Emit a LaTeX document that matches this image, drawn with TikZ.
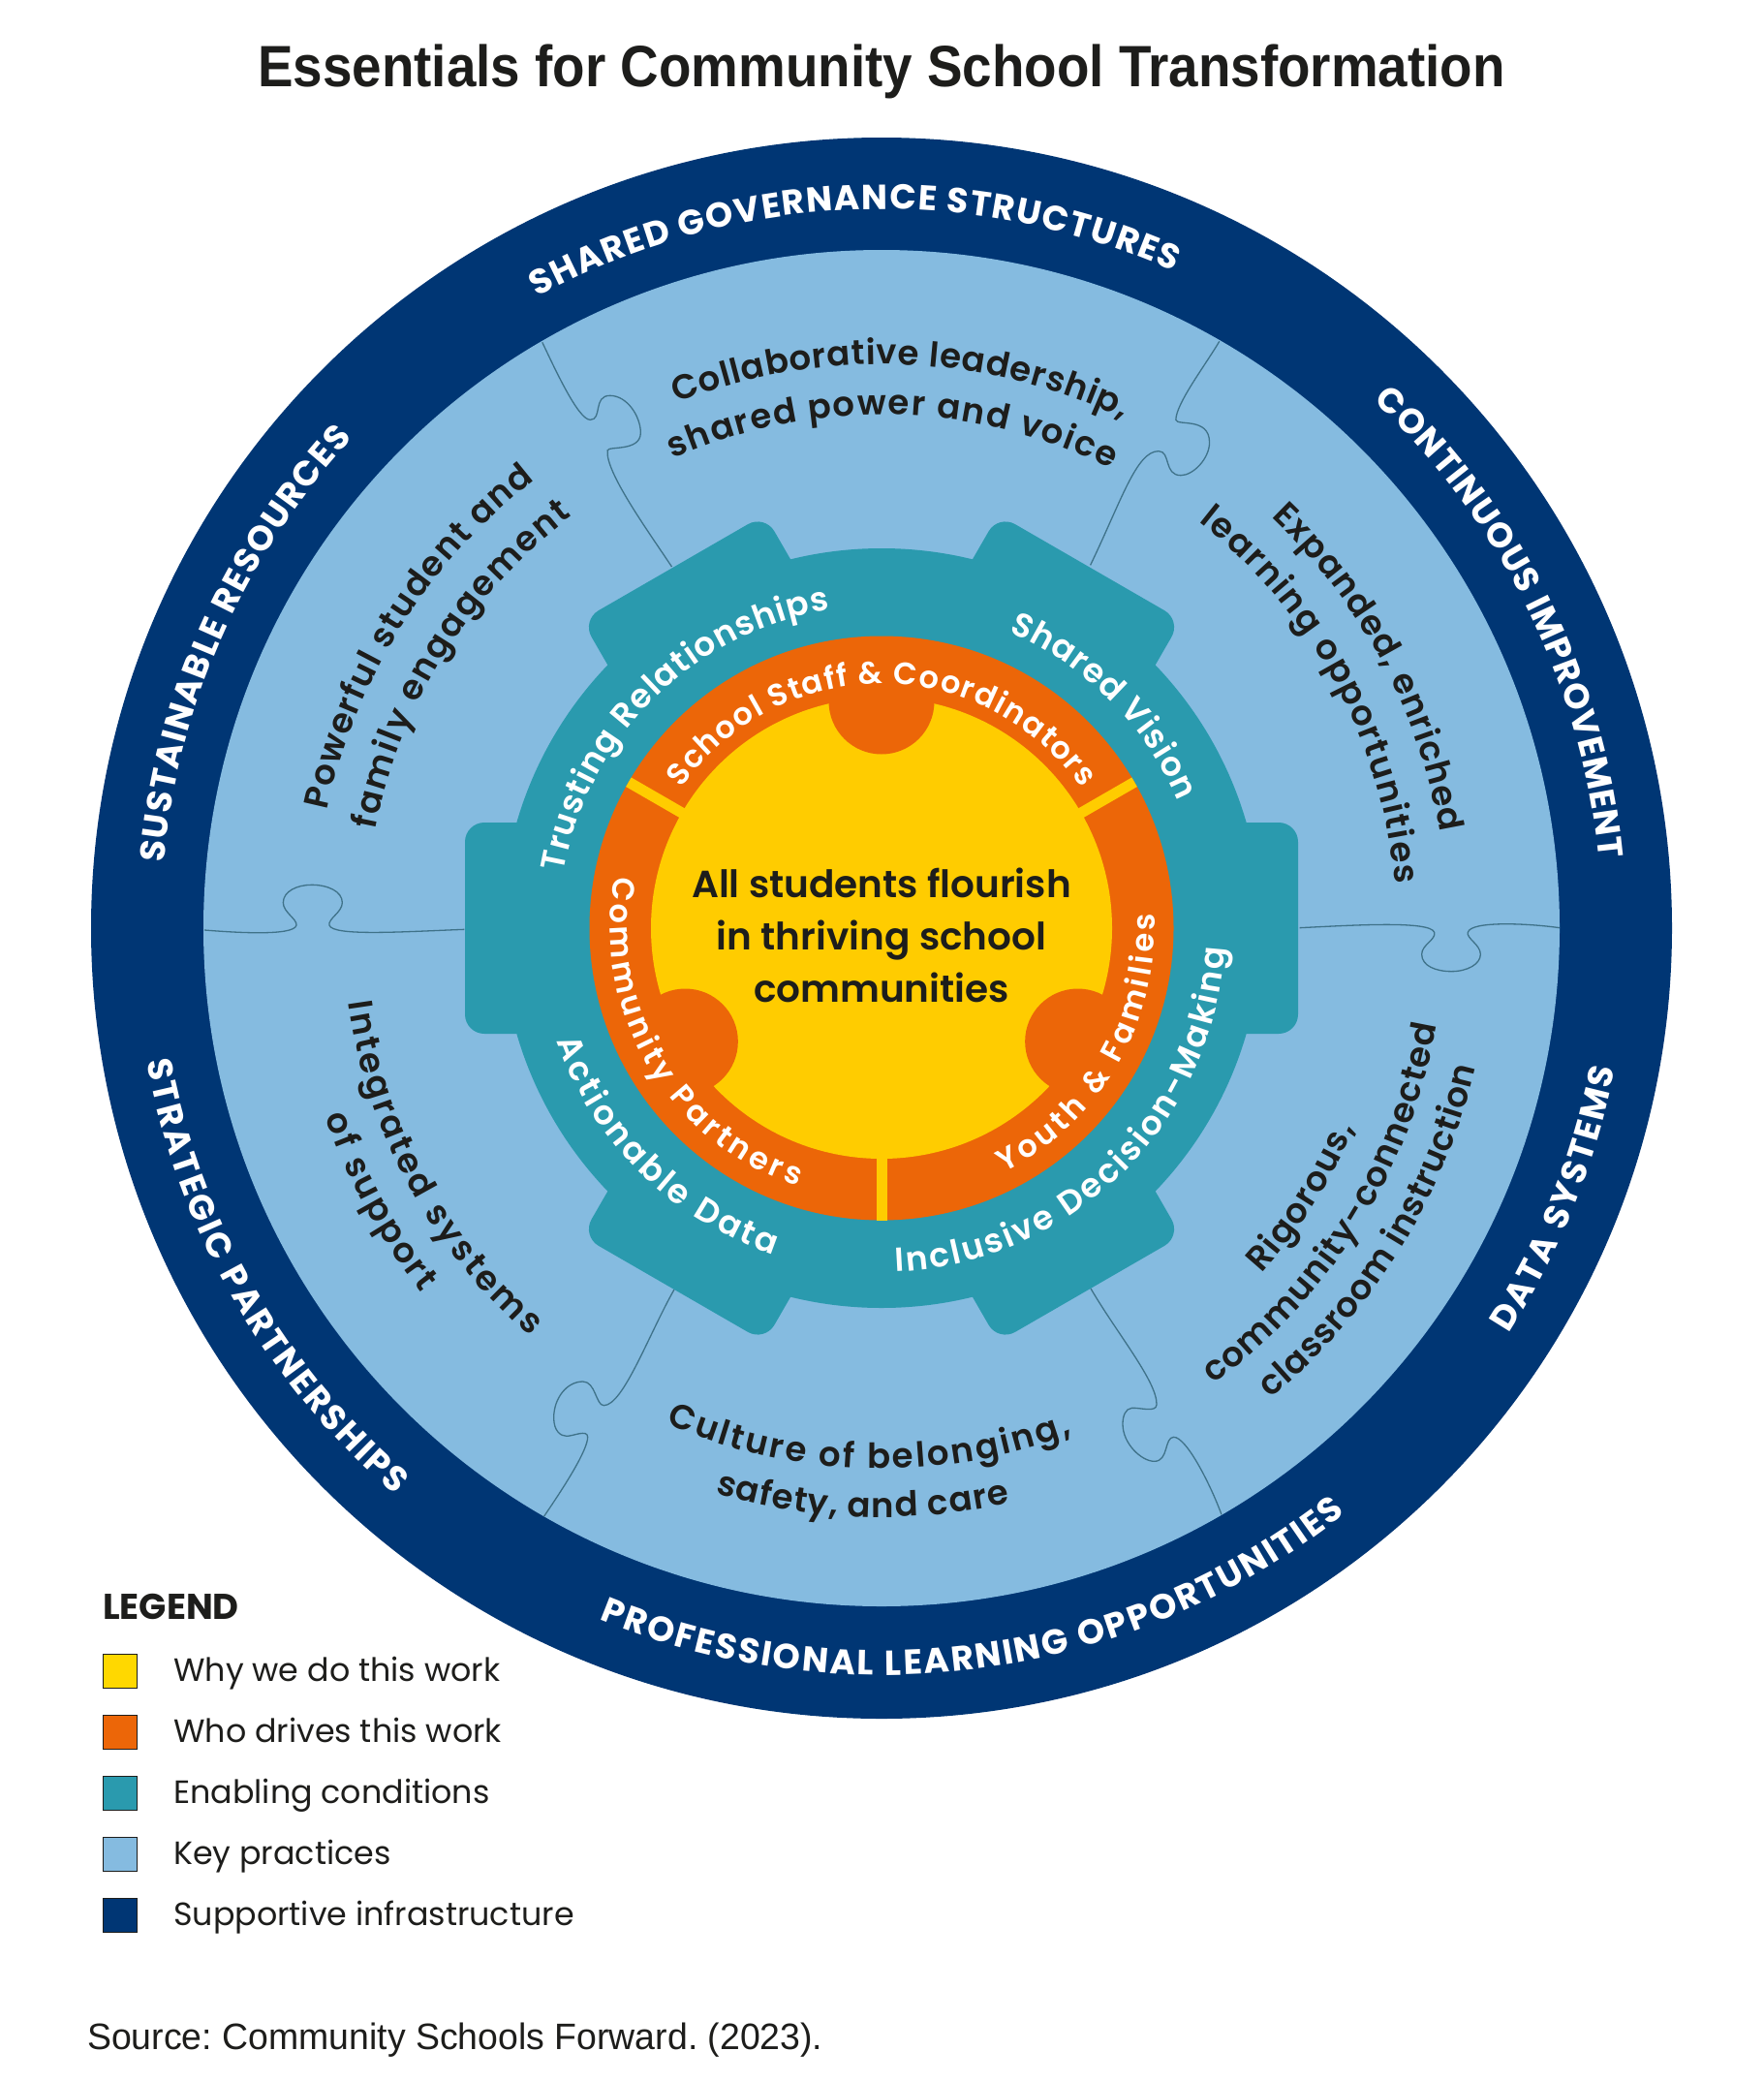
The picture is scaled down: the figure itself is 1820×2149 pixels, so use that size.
\documentclass[tikz,border=0pt]{standalone}
\usepackage{fontspec}
\usetikzlibrary{decorations.text}
\setmainfont{Liberation Sans}
\newfontfamily\titlef{Liberation Sans Bold}[FakeStretch=0.91]
\newfontfamily\srcf{Liberation Sans}[FakeStretch=0.985]
\newfontfamily\popR{Poppins}
\newfontfamily\popB{Poppins Bold}
\newfontfamily\popM{Poppins Medium}
\newfontfamily\popS{Poppins SemiBold}
\definecolor{navyc}{HTML}{003674}
\definecolor{skyc}{HTML}{85BBE0}
\definecolor{tealc}{HTML}{2A9AAE}
\definecolor{orangec}{HTML}{EC6608}
\definecolor{yellowc}{HTML}{FFCC00}
\definecolor{legyellow}{HTML}{FFD800}
\definecolor{inkc}{HTML}{1D1D1B}
\definecolor{seamc}{HTML}{3F7289}
\tikzset{
  seam/.style={draw=seamc,line width=1.3pt},
  swatch/.style={draw=inkc,line width=1pt},
  legtext/.style={anchor=base west,inner sep=0pt,text=inkc,font=\popR\fontsize{33.3}{36}\selectfont},
  centertext/.style={anchor=base,inner sep=0pt,text=inkc,font=\popS\fontsize{39}{42}\selectfont}
}
\newcommand\arctxt[6]{%
  \path[decorate,decoration={text along path,text align=fit to path,text color=#6,
    text={|#4|#5}}] (#2:#1) arc[start angle=#2,end angle=#3,radius=#1];}
\newcommand\rimfont{\popB\fontsize{36}{36}\selectfont}
\newcommand\midfont{\popS\fontsize{35.5}{36}\selectfont}
\newcommand\gearfont{\popS\fontsize{34.5}{35}\selectfont}
\newcommand\orfont{\popS\fontsize{32}{32}\selectfont}
\begin{document}
\frenchspacing
\begin{tikzpicture}[x=1pt,y=1pt]
\useasboundingbox (0,0) rectangle (1820,-2149);
\fill[white] (0,0) rectangle (1820,-2149);
\node[anchor=base,inner sep=0pt,text=inkc,font=\titlef\fontsize{60.2}{62}\selectfont] (title) at (910,-89) {Essentials for Community School Transformation};
\begin{scope}[shift={(910,-958)}]
  \fill[navyc] (0,0) circle[radius=816];
  \fill[skyc] (0,0) circle[radius=700];
\end{scope}
% seams
\begin{scope}[shift={(200,-880)},x=0.33333pt,y=-0.33333pt]
 \draw[seam] (33,240) .. controls (120,247) and (310,260) .. (318,225) .. controls (320,205) and (277,185) .. (277,155) .. controls (277,120) and (320,100) .. (365,100) .. controls (415,100) and (460,120) .. (460,155) .. controls (460,185) and (415,205) .. (420,225) .. controls (430,260) and (650,245) .. (838,238);
\end{scope}
\begin{scope}[shift={(1330,-930)},x=0.33333pt,y=-0.33333pt]
 \draw[seam] (35,83) .. controls (200,75) and (440,60) .. (452,97) .. controls (458,120) and (413,135) .. (413,165) .. controls (413,200) and (455,218) .. (505,218) .. controls (555,218) and (595,195) .. (595,165) .. controls (595,135) and (550,115) .. (556,97) .. controls (565,60) and (750,70) .. (840,83);
\end{scope}
\begin{scope}[shift={(540,-1320)},x=0.33333pt,y=-0.33333pt]
 \draw[seam] (468,33) .. controls (390,170) and (310,392) .. (250,392) .. controls (225,392) and (225,318) .. (185,318) .. controls (135,318) and (95,370) .. (95,430) .. controls (95,470) and (115,487) .. (135,487) .. controls (155,487) and (200,465) .. (200,490) .. controls (200,530) and (130,640) .. (65,735);
\end{scope}
\begin{scope}[shift={(1110,-1320)},x=0.33333pt,y=-0.33333pt]
 \draw[seam] (48,30) .. controls (130,170) and (255,320) .. (252,390) .. controls (250,415) and (200,398) .. (175,400) .. controls (155,402) and (147,425) .. (147,450) .. controls (147,510) and (205,565) .. (245,565) .. controls (290,565) and (275,490) .. (305,490) .. controls (345,490) and (420,640) .. (453,730);
\end{scope}
\begin{scope}[shift={(520,-320)},x=0.5102pt,y=-0.33333pt]
 \draw[seam] (78,100) .. controls (100,170) and (150,340) .. (175,340) .. controls (200,340) and (180,265) .. (215,265) .. controls (250,265) and (277,330) .. (277,380) .. controls (277,440) and (210,420) .. (210,435) .. controls (205,500) and (290,680) .. (340,795);
 \draw[seam] (1448,97) .. controls (1420,170) and (1360,290) .. (1360,340) .. controls (1362,360) and (1428,330) .. (1428,410) .. controls (1428,460) and (1395,512) .. (1370,512) .. controls (1335,512) and (1350,437) .. (1325,437) .. controls (1280,437) and (1250,590) .. (1187,790);
\end{scope}
\begin{scope}[shift={(910,-958)}]
  \fill[tealc] (0,0) circle[radius=392];
  \foreach \a in {0,60,120,180,240,300}
    \fill[tealc,rotate=\a,rounded corners=20pt] (0,-109) rectangle (430,109);
  \fill[orangec] (0,0) circle[radius=301.5];
  \fill[yellowc] (0,0) circle[radius=238];
  \foreach \a in {30,150,270}
    \draw[yellowc,line width=11pt] (\a:228) -- (\a:301.5);
  \foreach \a in {90,210,330}
    \fill[orangec] (\a:234) circle[radius=54.5];
  % rim
  \arctxt{742}{118.6}{66.0}{\rimfont}{SHARED GOVERNANCE STRUCTURES}{white}
  \arctxt{744}{47}{5.5}{\rimfont}{CONTINUOUS IMPROVEMENT}{white}
  \arctxt{771}{-32.9}{-10.8}{\rimfont}{DATA SYSTEMS}{white}
  \arctxt{771}{-112.2}{-51.6}{\rimfont}{PROFESSIONAL LEARNING OPPORTUNITIES}{white}
  \arctxt{771}{190.3}{229.4}{\rimfont}{STRATEGIC PARTNERSHIPS}{white}
  \arctxt{744}{174.8}{137.2}{\rimfont}{SUSTAINABLE RESOURCES}{white}
  % practices
  \arctxt{582}{111.3}{64.6}{\midfont}{Collaborative leadership,}{inkc}
  \arctxt{530}{114}{63.4}{\midfont}{shared power and voice}{inkc}
  \arctxt{585}{46.5}{9.7}{\midfont}{Expanded, enriched}{inkc}
  \arctxt{532}{52}{4.9}{\midfont}{learning opportunities}{inkc}
  \arctxt{530}{-42.3}{-22.9}{\midfont}{Rigorous,}{inkc}
  \arctxt{582}{-54}{-9.9}{\midfont}{community-connected}{inkc}
  \arctxt{630}{-50.4}{-13.2}{\midfont}{classroom instruction}{inkc}
  \arctxt{558}{246.5}{290.6}{\midfont}{Culture of belonging,}{inkc}
  \arctxt{608}{253.6}{282.6}{\midfont}{safety, and care}{inkc}
  \arctxt{556}{187.9}{229.3}{\midfont}{Integrated systems}{inkc}
  \arctxt{606}{198.7}{218.4}{\midfont}{of support}{inkc}
  \arctxt{585}{168}{127.7}{\midfont}{Powerful student and}{inkc}
  \arctxt{532}{169}{126.9}{\midfont}{family engagement}{inkc}
  % gear
  \arctxt{333}{170}{99.2}{\gearfont}{Trusting Relationships}{white}
  \arctxt{333}{66.7}{23.2}{\gearfont}{Shared Vision}{white}
  \arctxt{355}{-87.6}{-3.3}{\gearfont}{Inclusive Decision-Making}{white}
  \arctxt{355}{199.2}{251.7}{\gearfont}{Actionable Data}{white}
  % orange
  \arctxt{252}{145}{35}{\orfont}{School Staff {\&} Coordinators}{white}
  \arctxt{280}{169}{252}{\orfont}{Community Partners}{white}
  \arctxt{282}{296.6}{363}{\orfont}{Youth {\&} Families}{white}
\end{scope}
\node[centertext] (c1) at (910,-926) {All students flourish};
\node[centertext] (c2) at (910,-980) {in thriving school};
\node[centertext] (c3) at (910,-1034) {communities};
% legend
\node[anchor=west,inner sep=0pt,text=inkc,font=\popB\fontsize{37}{37}\selectfont] (lg) at (106,-1658) {LEGEND};
\foreach \yy/\cc/\tt/\nm in {1707/legyellow/Why we do this work/a,1770/orangec/Who drives this work/b,1833/tealc/Enabling conditions/c,1896/skyc/Key practices/d,1959/navyc/Supportive infrastructure/e}{
  \draw[swatch,fill=\cc] (106,-\yy) rectangle (141,-\yy-35);
  \node[legtext] (leg\nm) at (179,-\yy-28.5) {\tt};
}
\node[anchor=base west,inner sep=0pt,text=inkc,font=\srcf\fontsize{38}{40}\selectfont] (src) at (90,-2115) {Source: Community Schools Forward. (2023).};
\end{tikzpicture}
\end{document}
